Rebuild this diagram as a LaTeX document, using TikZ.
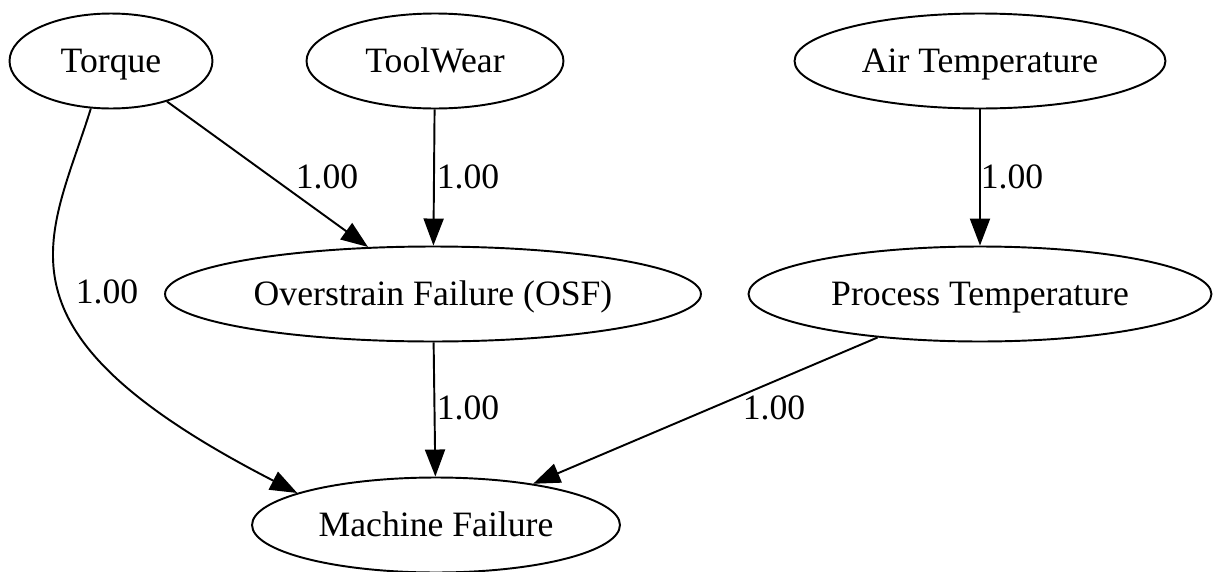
\documentclass[tikz,border=0pt]{standalone}
\usepackage{fontspec}
\setmainfont{Liberation Serif}
\usetikzlibrary{shapes.geometric,arrows.meta}

\begin{document}
\begin{tikzpicture}[
    x=0.02cm,
    y=-0.02cm,
    var/.style={
        draw,
        ellipse,
        line width=1.1pt,
        inner sep=0pt,
        minimum height=1.9cm,
        text height=18.5pt,
        text depth=5pt,
        font=\fontsize{20.3}{24}\selectfont
    },
    weight/.style={
        inner sep=0pt,
        font=\fontsize{20.3}{24}\selectfont
    },
    link/.style={
        line width=1.1pt,
        -{Triangle[length=0.54cm,width=0.4cm]}
    }
]
\useasboundingbox (0,0) rectangle (1232,572);

% =====================
% Variables
% =====================
\node[var, minimum width=4.06cm]  (torque)   at (111,61)  {Torque};
\node[var, minimum width=5.14cm]  (toolwear) at (435,61)  {ToolWear};
\node[var, minimum width=7.42cm]  (airtemp)  at (980,61)  {Air Temperature};
\node[var, minimum width=10.72cm] (osf)      at (433,294) {Overstrain Failure (OSF)};
\node[var, minimum width=9.26cm]  (proctemp) at (980,294) {Process Temperature};
\node[var, minimum width=7.36cm]  (machine)  at (436,525) {Machine Failure};

% =====================
% Kanten
% =====================
\draw[link] (torque) -- (osf);
\draw[link] (toolwear) -- (osf);
\draw[link] (airtemp) -- (proctemp);
\draw[link] (torque.247) .. controls (50,240) and (-20,330) .. (machine.167);
\draw[link] (osf) -- (machine);
\draw[link] (proctemp) -- (machine);

% =====================
% Gewichte
% =====================
\node[weight] (w1) at (327,177)  {1.00};
\node[weight] (w2) at (468,177)  {1.00};
\node[weight] (w3) at (1012,177) {1.00};
\node[weight] (w4) at (107,292)  {1.00};
\node[weight] (w5) at (468,408)  {1.00};
\node[weight] (w6) at (774,408)  {1.00};

\end{tikzpicture}
\end{document}
